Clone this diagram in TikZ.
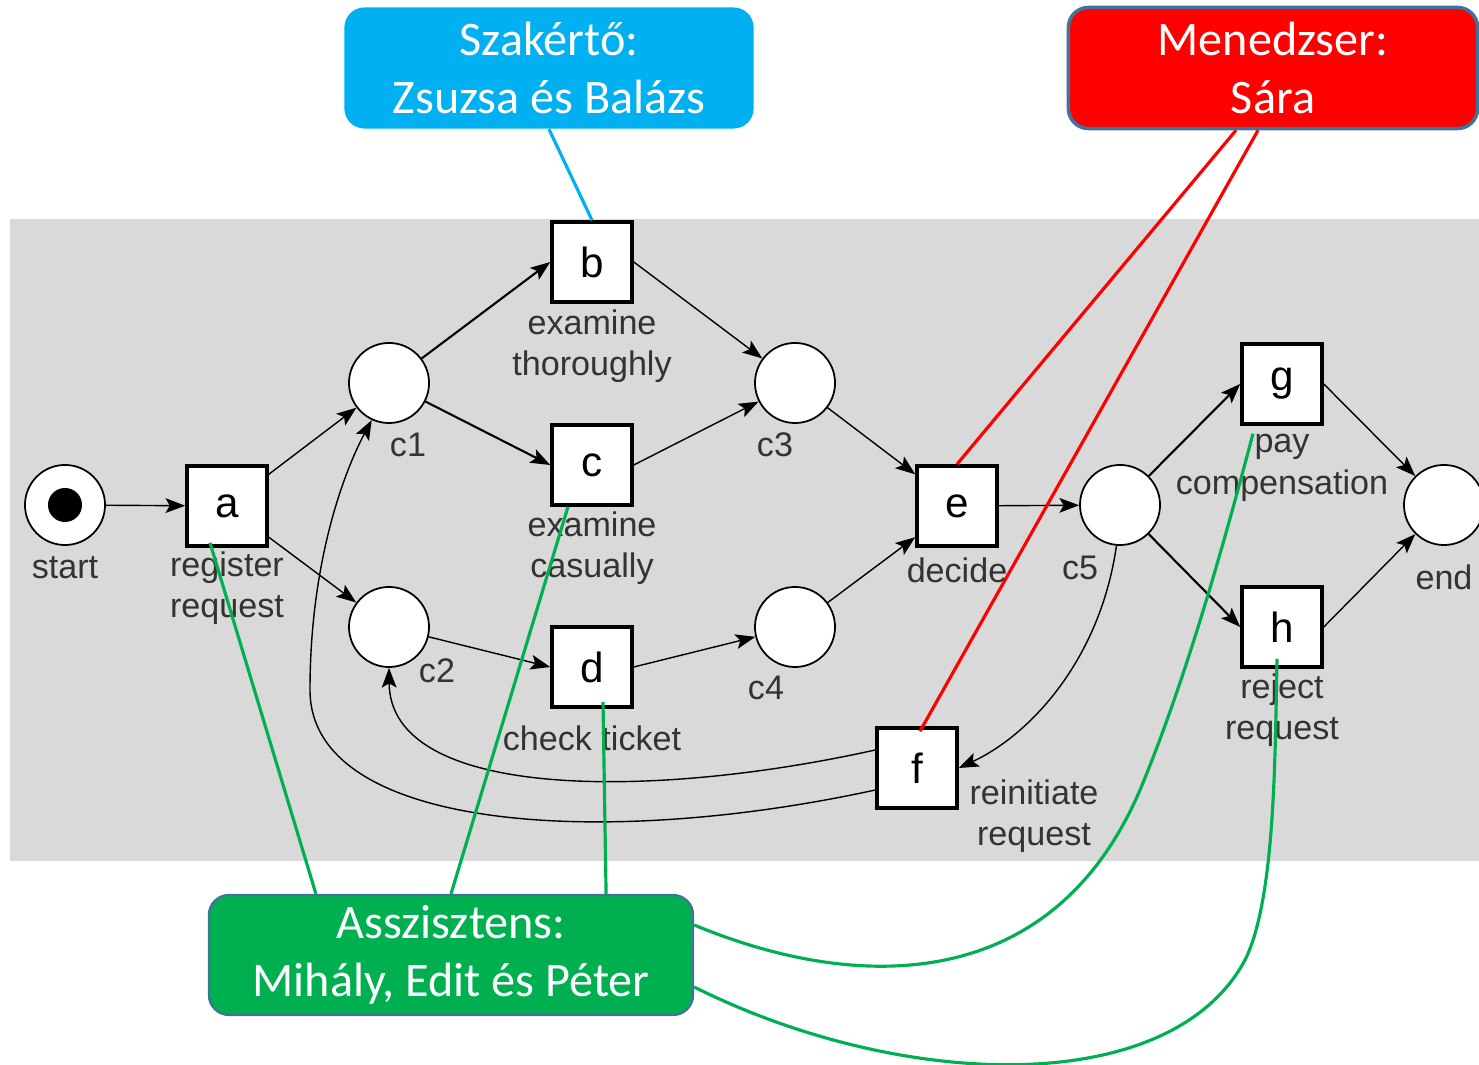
\documentclass[tikz,border=0pt]{standalone}
\usepackage{fontspec}
\setmainfont{Liberation Sans}
\newfontfamily\calloutfont{Carlito}
\usetikzlibrary{arrows.meta,calc,shapes}
\definecolor{fondgris}{RGB}{217,217,217}
\definecolor{textegris}{RGB}{51,51,51}
\definecolor{bleuclair}{RGB}{0,176,240}
\definecolor{vert}{RGB}{0,176,80}
\definecolor{bord}{RGB}{65,113,156}

\begin{document}
\begin{tikzpicture}[x=0.01cm,y=-0.01cm]
\tikzstyle{place}=[circle,draw,fill=white,line width=0.5pt,minimum size=0.8cm,inner sep=0pt]
\tikzstyle{transition}=[rectangle,draw,fill=white,line width=1pt,minimum size=0.8cm,inner sep=0pt,font=\fontsize{12}{14}\selectfont]
\tikzstyle{lbl}=[text=textegris,align=center,inner sep=0pt,font=\fontsize{9.7}{11.8}\selectfont]
\tikzstyle{callout}=[rectangle,rounded corners=0.2cm,minimum width=4.09cm,minimum height=1.21cm,
text=white,align=center,inner sep=0pt,font=\calloutfont\fontsize{13.7}{16.5}\selectfont]
\tikzstyle{suite}=[->,>={Stealth[length=5.6pt,width=4.2pt,inset=1.2pt]},thin]
\tikzstyle{lien}=[line width=0.9pt]

\useasboundingbox (0,0) rectangle (1479,1065);
\fill[fondgris] (10,219) rectangle (1479,861);

% places
\node[place] (start) at (65,505) {};
\fill (start) circle (0.17cm);
\node[place] (c1) at (389,383) {};
\node[place] (c2) at (389,627) {};
\node[place] (c3) at (795,383) {};
\node[place] (c4) at (795,627) {};
\node[place] (c5) at (1120,505) {};
\node[place] (end) at (1444,505) {};

% transitions
\node[transition] (a) at (227,506) {a};
\node[transition] (b) at (592,262) {b};
\node[transition] (c) at (592,465) {c};
\node[transition] (d) at (592,667) {d};
\node[transition] (e) at (957,506) {e};
\node[transition] (f) at (917,768) {f};
\node[transition] (g) at (1282,384) {g};
\node[transition] (h) at (1282,627) {h};

% labels
\node[lbl] (lstart) at (65,568) {start};
\node[lbl] (la) at (227,588) {register\\request};
\node[lbl] (lc1) at (408,445) {c1};
\node[lbl] (lc2) at (437,671) {c2};
\node[lbl] (lb) at (592,346) {examine\\thoroughly};
\node[lbl] (lc) at (592,548) {examine\\casually};
\node[lbl] (ld) at (592,738) {check ticket};
\node[lbl] (lc3) at (775,445) {c3};
\node[lbl] (lc4) at (766,688) {c4};
\node[lbl] (le) at (957,570) {decide};
\node[lbl] (lc5) at (1080,568) {c5};
\node[lbl] (lf) at (1034,816) {reinitiate\\request};
\node[lbl] (lg) at (1282,468) {pay\\compensation};
\node[lbl] (lh) at (1282,710) {reject\\request};
\node[lbl] (lend) at (1444,577) {end};

% arcs
\draw[suite] (start) -- (a);
\draw[suite] (a) -- (c1);
\draw[suite] (a) -- (c2);
\draw[suite,semithick] (c1) -- (b.west);
\draw[suite,semithick] (c1) -- (c.west);
\draw[suite] (c2) -- (d.west);
\draw[suite] (b.east) -- (c3);
\draw[suite] (c.east) -- (c3);
\draw[suite] (d.east) -- (c4);
\draw[suite] (c3) -- (e);
\draw[suite] (c4) -- (e);
\draw[suite] (e) -- (c5);
\draw[suite,semithick] (c5) -- (g.west);
\draw[suite,semithick] (c5) -- (h.west);
\draw[suite] (g.east) -- (end);
\draw[suite] (h.east) -- (end);
\draw[suite] (c5.-95) .. controls (1100,660) and (1030,735) .. (f.east);
\draw[suite] ([yshift=0.18cm]f.west) .. controls (650,800) and (390,800) .. (c2.south);
\draw[suite] ([yshift=-0.22cm]f.west) .. controls (600,850) and (310,830) .. (310,690)
  .. controls (310,560) and (345,470) .. (c1.-115);

% roles
\node[callout,fill=bleuclair] (szakerto) at (549,68) {Szakértő:\\Zsuzsa és Balázs};
\node[callout,fill=red,draw=bord,line width=1pt] (menedzser) at (1273,68) {Menedzser:\\Sára};
\node[callout,fill=vert,draw=bord,line width=0.6pt,minimum width=4.84cm,minimum height=1.2cm] (asszisztens) at (451,955) {Asszisztens:\\Mihály, Edit és Péter};

\draw[lien,bleuclair] (szakerto.south) -- (b.north);
\draw[lien,red] ([xshift=-0.37cm]menedzser.south) -- (e.north);
\draw[lien,red] ([xshift=-0.15cm]menedzser.south) -- ([xshift=0.03cm,yshift=-0.05cm]f.north);
\draw[lien,vert] ([xshift=-1.35cm]asszisztens.north) -- ([xshift=-0.17cm,yshift=0.05cm]a.south);
\draw[lien,vert] (asszisztens.north) -- ([xshift=-0.24cm]c.south);
\draw[lien,vert] ([xshift=1.55cm]asszisztens.north) -- ([xshift=0.11cm,yshift=0.07cm]d.south);
\draw[lien,vert] ([yshift=0.3cm]asszisztens.east) .. controls (850,990) and (1050,1000) .. (1140,790)
  .. controls (1190,670) and (1230,520) .. ([xshift=-0.29cm,yshift=-0.08cm]g.south);
\draw[lien,vert] ([yshift=-0.32cm]asszisztens.east) .. controls (900,1090) and (1170,1100) .. (1245,960)
  .. controls (1275,900) and (1275,760) .. ([xshift=-0.05cm,yshift=0.1cm]h.south);

\end{tikzpicture}
\end{document}
